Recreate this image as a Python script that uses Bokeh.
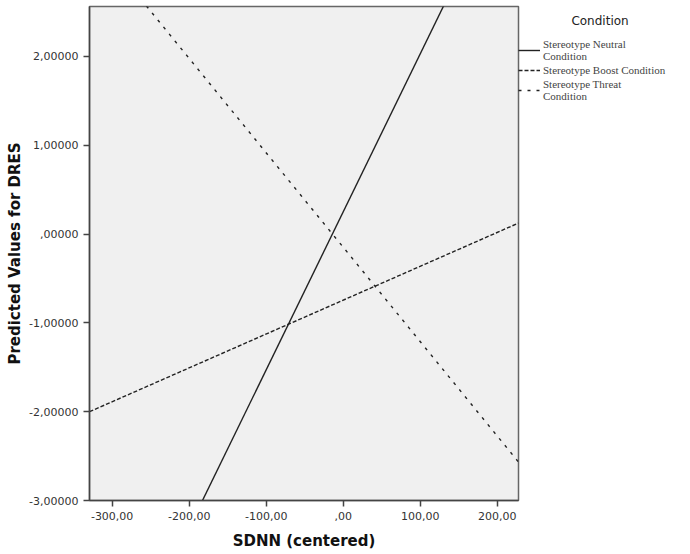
from bokeh.plotting import figure
from bokeh.models import Range1d, Legend, LegendItem, FixedTicker
from bokeh.embed import file_html
from bokeh.resources import INLINE

# Data (predicted values at ends of SDNN range)
sdnn_ends = [-329.4, 227.6]
neutral_pred = [-5.61, 4.30]
boost_pred = [-2.00, 0.124]
threat_pred = [3.354, -2.567]

x_ticks = [-300, -200, -100, 0, 100, 200]
x_tick_labels = ["-300,00", "-200,00", "-100,00", ",00", "100,00", "200,00"]
y_ticks = [-3, -2, -1, 0, 1, 2]
y_tick_labels = ["-3,00000", "-2,00000", "-1,00000", ",00000", "1,00000", "2,00000"]

p = figure(frame_width=429, frame_height=494, output_backend="svg", toolbar_location=None,
           x_range=Range1d(-329.4, 227.6), y_range=Range1d(-3.0, 2.563),
           min_border_left=89, min_border_top=6, min_border_bottom=54, min_border_right=0)

p.background_fill_color = "#f0f0f0"
p.border_fill_color = "white"
p.outline_line_color = "#666666"
p.outline_line_width = 1.5
p.xgrid.visible = False
p.ygrid.visible = False

for ax, ticks, labels in ((p.xaxis[0], x_ticks, x_tick_labels), (p.yaxis[0], y_ticks, y_tick_labels)):
    ax.ticker = FixedTicker(ticks=ticks)
    ax.major_label_overrides = {t: l for t, l in zip(ticks, labels)}
    ax.minor_tick_line_color = None
    ax.major_tick_in = 0
    ax.major_tick_out = 6
    ax.axis_line_color = "#444444"
    ax.axis_line_width = 1.5
    ax.major_tick_line_color = "#444444"
    ax.major_tick_line_width = 1.5
    ax.major_label_text_font = "DejaVu Sans"
    ax.major_label_text_font_size = "11px"
    ax.major_label_text_color = "#333333"
    ax.axis_label_text_font = "DejaVu Sans"
    ax.axis_label_text_font_size = "15px"
    ax.axis_label_text_font_style = "bold"
    ax.axis_label_text_color = "#111111"

p.xaxis.axis_label = "SDNN (centered)"
p.xaxis.axis_label_standoff = 9
p.yaxis.axis_label = "Predicted Values for DRES"
p.yaxis.axis_label_standoff = 2
p.yaxis.major_label_orientation = "horizontal"

r1 = p.line(sdnn_ends, neutral_pred, line_color="#222222", line_width=1.4)
r2 = p.line(sdnn_ends, boost_pred, line_color="#222222", line_width=1.4, line_dash="4 2")
r3 = p.line(sdnn_ends, threat_pred, line_color="#222222", line_width=1.4, line_dash="3 6")

legend = Legend(items=[
    LegendItem(label="Stereotype Neutral\nCondition", renderers=[r1]),
    LegendItem(label="Stereotype Boost Condition", renderers=[r2]),
    LegendItem(label="Stereotype Threat\nCondition", renderers=[r3]),
], location=(0, 398))
legend.title = "\u00a0" * 14 + "Condition"
legend.title_text_font = "DejaVu Sans"
legend.title_text_font_size = "12px"
legend.title_text_font_style = "normal"
legend.title_text_color = "#222222"
legend.title_standoff = 10
legend.label_text_font = "Liberation Serif"
legend.label_text_font_size = "11px"
legend.label_text_line_height = 1.0
legend.label_height = 12
legend.glyph_width = 22
legend.glyph_height = 12
legend.spacing = 2
legend.padding = 0
legend.margin = 0
legend.border_line_color = None
legend.background_fill_alpha = 0
legend.label_standoff = 3
p.add_layout(legend, "right")

open("out.html", "w").write(file_html(p, INLINE))
